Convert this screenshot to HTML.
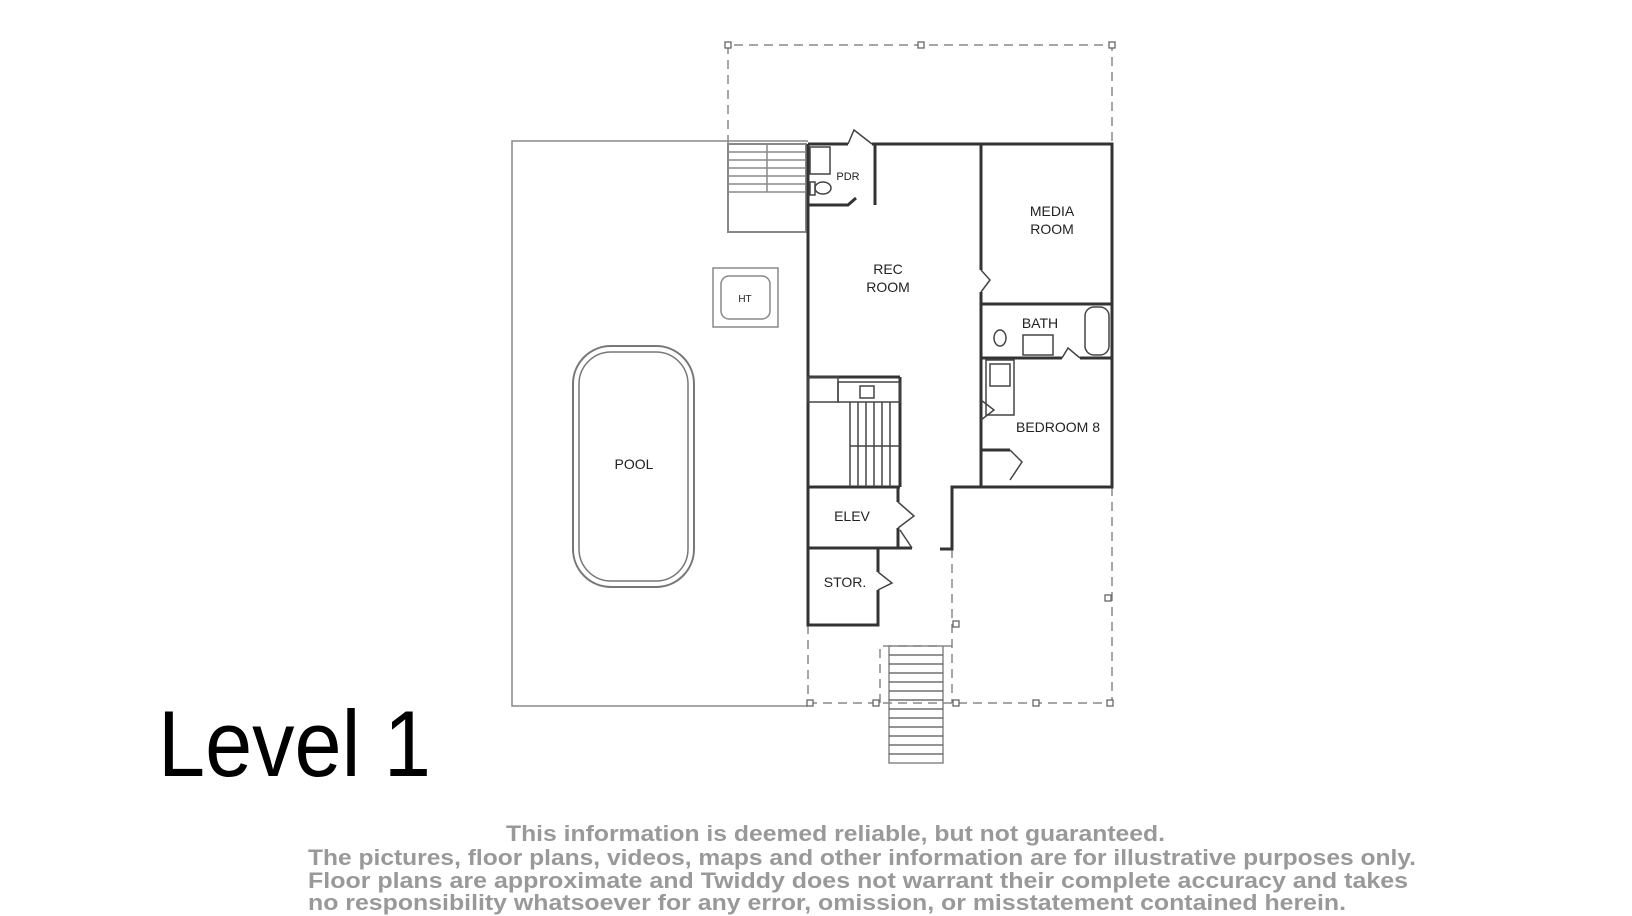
<!DOCTYPE html>
<html><head><meta charset="utf-8"><style>
html,body{margin:0;padding:0;background:#fff;}
svg{display:block;}
</style></head><body>
<svg width="1632" height="916" viewBox="0 0 1632 916" xmlns="http://www.w3.org/2000/svg">
<g fill="none" stroke="#888" stroke-width="1.5">
  <!-- outer pool deck -->
  <polyline points="808,141 512,141 512,706 808,706"/>
  <!-- pool -->
  <rect x="573" y="346" width="121" height="241" rx="38" stroke="#777" stroke-width="2"/>
  <rect x="579" y="352" width="109" height="229" rx="32" stroke="#777"/>
  <!-- HT -->
  <rect x="713" y="268" width="65" height="59"/>
  <rect x="721" y="276" width="49" height="43" rx="8"/>
  <!-- top stair -->
  <rect x="728" y="144" width="78" height="88" stroke-width="2"/>
  <line x1="767" y1="144" x2="767" y2="192"/>
  <line x1="728" y1="152" x2="806" y2="152"/><line x1="728" y1="160" x2="806" y2="160"/>
  <line x1="728" y1="168" x2="806" y2="168"/><line x1="728" y1="176" x2="806" y2="176"/>
  <line x1="728" y1="184" x2="806" y2="184"/><line x1="728" y1="192" x2="806" y2="192"/>
  <!-- bottom stair -->
  <rect x="889" y="646" width="54" height="117"/>
  <g stroke="#555" stroke-width="1.2">
  <line x1="889" y1="655" x2="943" y2="655"/><line x1="889" y1="664" x2="943" y2="664"/>
  <line x1="889" y1="673" x2="943" y2="673"/><line x1="889" y1="682" x2="943" y2="682"/>
  <line x1="889" y1="691" x2="943" y2="691"/><line x1="889" y1="700" x2="943" y2="700"/>
  <line x1="889" y1="709" x2="943" y2="709"/><line x1="889" y1="718" x2="943" y2="718"/>
  <line x1="889" y1="727" x2="943" y2="727"/><line x1="889" y1="736" x2="943" y2="736"/>
  <line x1="889" y1="745" x2="943" y2="745"/><line x1="889" y1="754" x2="943" y2="754"/>
  </g>
</g>
<!-- dashed -->
<g fill="none" stroke="#888" stroke-width="1.5" stroke-dasharray="9,6">
  <polyline points="728,144 728,45 1112,45 1112,144"/>
  <line x1="808" y1="625" x2="808" y2="703"/>
  <line x1="952" y1="549" x2="952" y2="703"/>
  <line x1="1112" y1="487" x2="1112" y2="703"/>
  <line x1="808" y1="703" x2="1112" y2="703"/>
  <polyline points="880,703 880,646 952,646"/>
</g>
<g fill="#fff" stroke="#666" stroke-width="1.3">
  <rect x="725" y="42" width="6" height="6"/><rect x="918" y="42" width="6" height="6"/><rect x="1109" y="42" width="6" height="6"/>
  <rect x="807" y="700" width="6" height="6"/><rect x="873" y="700" width="6" height="6"/><rect x="953" y="700" width="6" height="6"/>
  <rect x="1033" y="700" width="6" height="6"/><rect x="1107" y="700" width="6" height="6"/>
  <rect x="953" y="621" width="6" height="6"/><rect x="1105" y="595" width="6" height="6"/>
</g>
<!-- walls -->
<g fill="none" stroke="#333" stroke-width="3">
  <polyline points="808,144 808,625 878,625 878,590"/>
  <line x1="878" y1="572" x2="878" y2="548"/>
  <polyline points="808,144 848,144"/>
  <polyline points="872,144 1112,144 1112,487 952,487 952,549 940,549"/>
  <line x1="808" y1="548" x2="912" y2="548"/>
  <line x1="808" y1="487" x2="900" y2="487"/>
  <line x1="898" y1="487" x2="898" y2="502"/>
  <line x1="898" y1="528" x2="898" y2="548"/>
  <line x1="981" y1="144" x2="981" y2="270"/>
  <line x1="981" y1="292" x2="981" y2="487"/>
  <line x1="981" y1="304" x2="1112" y2="304"/>
  <line x1="981" y1="358" x2="1062" y2="358"/>
  <line x1="1080" y1="358" x2="1112" y2="358"/>
  <polyline points="808,205 848,205 856,198"/>
  <line x1="875" y1="144" x2="875" y2="205"/>
  <line x1="808" y1="377" x2="900" y2="377"/>
  <line x1="900" y1="377" x2="900" y2="487"/>
  <line x1="981" y1="450" x2="1010" y2="450"/>
</g>
<g fill="none" stroke="#444" stroke-width="1.5">
  <!-- door swings -->
  <polyline points="848,144 854,130 872,144"/>
  <polyline points="981,270 990,280 981,292"/>
  <polyline points="898,502 914,516 898,528"/>
  <polyline points="912,548 900,530"/>
  <polyline points="878,572 892,583 878,590"/>
  <polyline points="981,400 994,410 981,420"/>
  <polyline points="1010,450 1022,462 1010,480"/>
  <polyline points="1062,358 1068,348 1080,358"/>
  <!-- rec stair -->
  <rect x="808" y="377" width="30" height="25"/>
  <rect x="838" y="382" width="62" height="20"/>
  <rect x="860" y="386" width="14" height="12"/>
  <line x1="850" y1="402" x2="850" y2="487"/><line x1="858" y1="402" x2="858" y2="487"/>
  <line x1="866" y1="402" x2="866" y2="487"/><line x1="874" y1="402" x2="874" y2="487"/>
  <line x1="882" y1="402" x2="882" y2="487"/><line x1="890" y1="402" x2="890" y2="487"/>
  <line x1="850" y1="446" x2="900" y2="446"/>
  <!-- bath fixtures -->
  <rect x="1085" y="307" width="24" height="48" rx="9"/>
  <rect x="1023" y="335" width="30" height="20"/>
  <ellipse cx="1000" cy="338" rx="6" ry="8"/>
  <rect x="986" y="360" width="28" height="55"/>
  <rect x="990" y="364" width="20" height="22"/>
  <!-- PDR -->
  <rect x="810" y="147" width="20" height="27"/>
  <ellipse cx="823" cy="188" rx="8" ry="6"/>
  <rect x="810" y="182" width="5" height="13"/>
</g>
<g font-family="'Liberation Sans',sans-serif" font-size="14" fill="#222" text-anchor="middle">
  <text x="1052" y="216">MEDIA</text><text x="1052" y="234">ROOM</text>
  <text x="888" y="274">REC</text><text x="888" y="292">ROOM</text>
  <text x="1040" y="328">BATH</text>
  <text x="1058" y="432">BEDROOM 8</text>
  <text x="634" y="469">POOL</text>
  <text x="852" y="521">ELEV</text>
  <text x="845" y="587">STOR.</text>
  <text x="848" y="180" font-size="11">PDR</text>
  <text x="745" y="302" font-size="10">HT</text>
</g>
<text x="158" y="776" font-family="'Liberation Sans',sans-serif" font-size="94" fill="#000" textLength="273" lengthAdjust="spacingAndGlyphs">Level 1</text>
<g font-family="'Liberation Sans',sans-serif" font-size="22" font-weight="bold" fill="#999">
  <text x="506" y="841" textLength="659" lengthAdjust="spacingAndGlyphs">This information is deemed reliable, but not guaranteed.</text>
  <text x="308" y="865" textLength="1108" lengthAdjust="spacingAndGlyphs">The pictures, floor plans, videos, maps and other information are for illustrative purposes only.</text>
  <text x="308" y="888" textLength="1100" lengthAdjust="spacingAndGlyphs">Floor plans are approximate and Twiddy does not warrant their complete accuracy and takes</text>
  <text x="308" y="910" textLength="1038" lengthAdjust="spacingAndGlyphs">no responsibility whatsoever for any error, omission, or misstatement contained herein.</text>
</g>
</svg>
</body></html>
